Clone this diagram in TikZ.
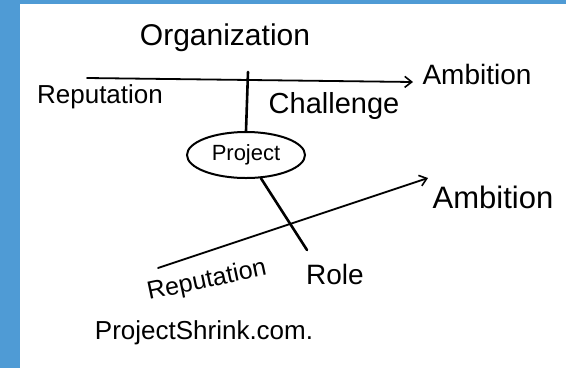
\documentclass[tikz,border=0pt]{standalone}
\usepackage{fontspec}
\setmainfont{Liberation Sans}
\usetikzlibrary{arrows.meta,shapes.geometric}
\definecolor{frameblue}{HTML}{4F9BD5}
\tikzset{
  hand/.style={inner sep=0pt, text=black, font=\fontsize{#1pt}{#1pt}\selectfont},
  thinline/.style={draw=black, line width=1.8pt, line cap=round},
  thickline/.style={draw=black, line width=2.6pt, line cap=round},
  barb/.style={-{Straight Barb[length=7pt,width=11pt,line width=1.6pt]}},
}
\begin{document}
\begin{tikzpicture}[x=1pt,y=-1pt]
\useasboundingbox (0,0) rectangle (566,368);
\fill[white] (0,0) rectangle (566,368);
\fill[frameblue] (0,0) rectangle (20,368);
\fill[frameblue] (0,0) rectangle (566,4);

% top cross
\node[hand=30] (org) at (225,38) {Organization};
\node[hand=28] (amb1) at (477,74) {Ambition};
\node[hand=26] (rep1) at (100,97) {Reputation};
\node[hand=29] (chal) at (334,106) {Challenge};
\coordinate (h1) at (87,78);
\coordinate (h2) at (413,82);
\draw[thinline,barb] (h1) -- (h2);
\coordinate (v1) at (248,72);

% project ellipse
\node[ellipse, draw=black, line width=2pt, minimum width=118pt, minimum height=46pt,
      hand=22] (proj) at (246,155) {Project};
\draw[thickline] (v1) -- (proj.north);

% lower cross
\coordinate (r1) at (307,250);
\draw[thickline] (proj) -- (r1);
\coordinate (a1) at (158,268);
\coordinate (a2) at (428,178);
\draw[thinline,barb] (a1) -- (a2);
\node[hand=31] (amb2) at (493,197) {Ambition};
\node[hand=25, rotate=12] (rep2) at (207,281) {Reputation};
\node[hand=28] (role) at (335,274) {Role};

% signature
\node[hand=26] (site) at (204,333) {ProjectShrink.com.};
\end{tikzpicture}
\end{document}
